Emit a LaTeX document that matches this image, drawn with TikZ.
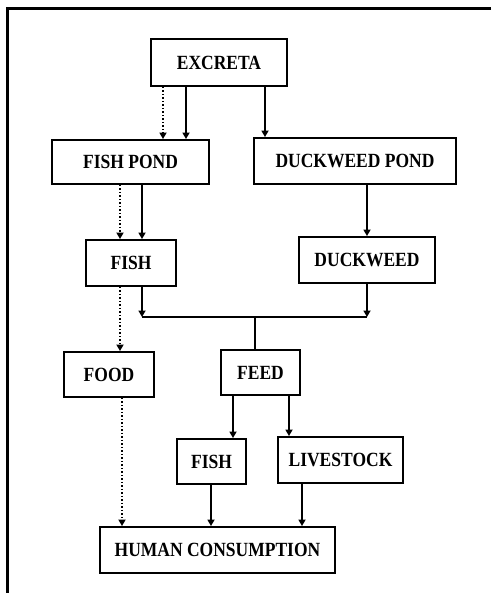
\documentclass[tikz,border=0pt]{standalone}
\usepackage{fontspec}
\usepackage{graphicx}
\setmainfont{Liberation Serif}
\usetikzlibrary{arrows.meta}
\newcommand{\tall}[1]{\scalebox{1}[1.15]{#1}}
\tikzset{
  box/.style={draw, line width=1.9pt, rectangle, inner sep=0pt, align=center,
    font=\fontsize{17.5}{20}\selectfont\bfseries},
  arr/.style={line width=1.7pt, -{Triangle[width=7pt,length=6.5pt]}},
  dotarr/.style={line width=2pt, dash pattern=on 1.5pt off 2pt, -{Triangle[width=7pt,length=6.5pt]}},
  plain/.style={line width=1.7pt},
  frame/.style={line width=2.5pt}
}
\begin{document}
\begin{tikzpicture}[x=1pt,y=-1pt]
\useasboundingbox (0,0) rectangle (491,595);
\coordinate (ftl) at (7.5,8.5);
\coordinate (ftr) at (491,8.5);
\coordinate (fbl) at (7.5,593);
\draw[frame] (ftr) -- (ftl) -- (fbl);

\node[box, minimum width=136pt, minimum height=47pt] (excreta) at (219,62.5) {\tall{EXCRETA}};
\node[box, minimum width=157pt, minimum height=44pt] (fishpond) at (130.5,162) {\tall{FISH POND}};
\node[box, minimum width=202pt, minimum height=46pt] (dwpond) at (355,161) {\tall{DUCKWEED POND}};
\node[box, minimum width=90pt, minimum height=46pt] (fish1) at (131,263) {\tall{FISH}};
\node[box, minimum width=136pt, minimum height=46pt] (duckweed) at (367,260) {\tall{DUCKWEED}};
\node[box, minimum width=90pt, minimum height=45pt] (food) at (109,374.5) {\tall{FOOD}};
\node[box, minimum width=79pt, minimum height=45pt] (feed) at (260.5,372.5) {\tall{FEED}};
\node[box, minimum width=69pt, minimum height=45pt] (fish2) at (211.5,461.5) {\tall{FISH}};
\node[box, minimum width=125pt, minimum height=46pt] (livestock) at (340.5,460) {\tall{LIVESTOCK}};
\node[box, minimum width=235pt, minimum height=46pt] (human) at (217.5,550) {\tall{HUMAN CONSUMPTION}};

% excreta to ponds
\draw[dotarr] (excreta.south -| 163,0) -- (fishpond.north -| 163,0);
\draw[arr] (excreta.south -| 186,0) -- (fishpond.north -| 186,0);
\draw[arr] (excreta.south -| 265,0) -- (dwpond.north -| 265,0);

% ponds to fish / duckweed
\draw[dotarr] (fishpond.south -| 120,0) -- (fish1.north -| 120,0);
\draw[arr] (fishpond.south -| 142,0) -- (fish1.north -| 142,0);
\draw[arr] (dwpond.south -| 367,0) -- (duckweed.north -| 367,0);

% junction
\coordinate (j1) at (142,317);
\coordinate (j2) at (367,317);
\coordinate (jm) at (255,317);
\draw[arr] (fish1.south -| j1) -- (j1);
\draw[arr] (duckweed.south -| j2) -- (j2);
\draw[plain] (j1) -- (j2);
\draw[plain] (jm) -- (feed.north -| jm);

% fish to food
\draw[dotarr] (fish1.south -| 120,0) -- (food.north -| 120,0);

% feed to fish / livestock
\draw[arr] (feed.south -| 233,0) -- (fish2.north -| 233,0);
\draw[arr] (feed.south -| 289,0) -- (livestock.north -| 289,0);

% to human consumption
\draw[dotarr] (food.south -| 122,0) -- (human.north -| 122,0);
\draw[arr] (fish2.south -| 211,0) -- (human.north -| 211,0);
\draw[arr] (livestock.south -| 302,0) -- (human.north -| 302,0);
\end{tikzpicture}
\end{document}
